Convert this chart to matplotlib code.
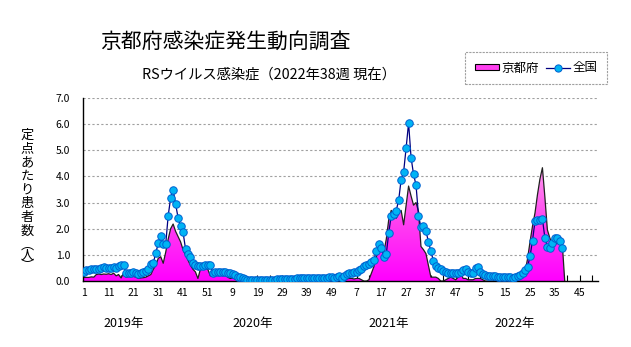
import numpy as np
import matplotlib
matplotlib.use('Agg')
import matplotlib.pyplot as plt
from matplotlib.patches import Patch
from matplotlib.lines import Line2D
from matplotlib.colors import LinearSegmentedColormap
import matplotlib.transforms as mtransforms

plt.rcParams['font.family'] = ['Noto Sans CJK JP', 'DejaVu Sans']

title = '京都府感染症発生動向調査'
subtitle = 'RSウイルス感染症（2022年38週 現在）'
ylabel_main = ['定', '点', 'あ', 'た', 'り', '患', '者', '数']
ylabel_unit = ['︵', '人', '︶']
years = ['2019年', '2020年', '2021年', '2022年']
series_names = ['京都府', '全国']
weeks_per_year = 52

# 全国 (per sentinel), weekly
national_2019 = [0.33, 0.41, 0.42, 0.45, 0.45, 0.46, 0.47, 0.49, 0.53, 0.51,
                 0.51, 0.50, 0.53, 0.49, 0.58, 0.61, 0.61, 0.30, 0.29, 0.30,
                 0.36, 0.30, 0.26, 0.32, 0.35, 0.39, 0.45, 0.65, 0.69, 1.08,
                 1.44, 1.72, 1.40, 1.40, 2.49, 3.18, 3.49, 2.94, 2.42, 2.10,
                 1.87, 1.23, 1.05, 0.91, 0.69, 0.60, 0.56, 0.56, 0.56, 0.60,
                 0.60, 0.63]
national_2020 = [0.30, 0.36, 0.36, 0.36, 0.35, 0.33, 0.30, 0.30, 0.26, 0.23,
                 0.17, 0.14, 0.10, 0.07, 0.05, 0.04, 0.03, 0.03, 0.03, 0.03,
                 0.04, 0.04, 0.03, 0.04, 0.05, 0.05, 0.06, 0.06, 0.07, 0.07,
                 0.08, 0.08, 0.09, 0.09, 0.10, 0.10, 0.11, 0.11, 0.12, 0.12,
                 0.12, 0.13, 0.13, 0.13, 0.13, 0.13, 0.13, 0.14, 0.14, 0.13,
                 0.15, 0.20]
national_2021 = [0.10, 0.20, 0.27, 0.29, 0.30, 0.33, 0.36, 0.41, 0.48, 0.57,
                 0.60, 0.67, 0.73, 0.80, 1.16, 1.42, 1.25, 0.93, 1.03, 1.85,
                 2.49, 2.57, 2.69, 3.09, 3.88, 4.17, 5.08, 6.04, 4.72, 4.08,
                 3.67, 2.50, 2.06, 2.12, 1.90, 1.51, 1.13, 0.78, 0.58, 0.51,
                 0.45, 0.40, 0.33, 0.29, 0.29, 0.29, 0.29, 0.31, 0.35, 0.42,
                 0.46, 0.35]
national_2022 = [0.31, 0.31, 0.51, 0.53, 0.35, 0.26, 0.22, 0.20, 0.20, 0.20,
                 0.19, 0.17, 0.16, 0.14, 0.15, 0.15, 0.14, 0.12, 0.15, 0.18,
                 0.22, 0.29, 0.42, 0.55, 0.94, 1.55, 2.28, 2.32, 2.35, 2.38,
                 1.64, 1.32, 1.27, 1.47, 1.64, 1.64, 1.55, 1.27]

# 京都府, weekly
kyoto_2019 = [0.14, 0.14, 0.14, 0.16, 0.15, 0.25, 0.27, 0.25, 0.27, 0.26,
              0.28, 0.25, 0.30, 0.20, 0.25, 0.12, 0.30, 0.15, 0.17, 0.17,
              0.18, 0.15, 0.10, 0.12, 0.13, 0.15, 0.20, 0.25, 0.45, 0.60,
              0.87, 0.93, 0.68, 1.10, 1.60, 2.00, 2.18, 1.90, 1.70, 1.50,
              1.20, 1.00, 0.80, 0.60, 0.45, 0.35, 0.10, 0.45, 0.50, 0.50,
              0.45, 0.20]
kyoto_2020 = [0.20, 0.25, 0.30, 0.25, 0.20, 0.25, 0.15, 0.10, 0.12, 0.08,
              0.05, 0.03, 0.02, 0, 0, 0, 0, 0, 0, 0,
              0, 0, 0, 0, 0, 0, 0, 0, 0, 0,
              0, 0, 0, 0, 0, 0, 0, 0, 0, 0,
              0, 0, 0, 0, 0, 0, 0, 0, 0, 0,
              0, 0]
kyoto_2021 = [0.0, 0.0, 0.08, 0.10, 0.10, 0.08, 0.10, 0.10, 0.05, 0.0,
              0.0, 0.05, 0.30, 0.55, 0.93, 1.20, 1.45, 1.10, 1.60, 2.35,
              2.70, 2.50, 2.40, 2.60, 2.70, 2.15, 2.90, 3.63, 3.25, 2.90,
              3.00, 2.67, 1.32, 1.20, 1.05, 0.60, 0.15, 0.15, 0.15, 0.10,
              0.0, 0.0, 0.05, 0.10, 0.15, 0.10, 0.05, 0.15, 0.30, 0.10,
              0.10, 0.05]
kyoto_2022 = [0.05, 0.05, 0.10, 0.10, 0.10, 0.05, 0, 0, 0, 0,
              0, 0, 0, 0, 0, 0, 0, 0, 0.05, 0.10,
              0.20, 0.25, 0.35, 0.85, 1.50, 2.10, 2.60, 3.30, 3.90, 4.33,
              3.20, 1.96, 1.64, 1.45, 1.40, 1.45, 1.40, 1.45]

national = np.array(national_2019 + national_2020 + national_2021 + national_2022)
kyoto = np.array(kyoto_2019 + kyoto_2020 + kyoto_2021 + kyoto_2022)
x = np.arange(len(national))
n_weeks = weeks_per_year * len(years)

fig = plt.figure(figsize=(6.31, 3.47), dpi=100)
ax = fig.add_axes([0.131, 0.190, 0.817, 0.528])

# kyoto area with vertical gradient
xk = np.append(x, x[-1] + 1)
yk = np.append(kyoto, 0)
poly = ax.fill_between(xk, yk, 0, color='none', lw=0)
cmap = LinearSegmentedColormap.from_list('kyoto', ['#ff00ff', '#ff40f0', '#ffa0ee'])
grad = np.linspace(0, 1, 256).reshape(-1, 1)
im = ax.imshow(grad, extent=(xk[0], xk[-1], 0, 4.5), origin='lower',
               aspect='auto', cmap=cmap, zorder=1)
im.set_clip_path(poly.get_paths()[0], transform=ax.transData)
ax.plot(xk, yk, color='#202020', lw=0.9, zorder=2)

ax.plot(x, national, color='#000080', lw=0.9, marker='o', ms=5.4,
        mfc='#00b4f4', mec='#0060d0', mew=0.7, zorder=3)

ax.set_xlim(-0.5, n_weeks - 0.5)
ax.set_ylim(0, 7)
ax.set_yticks(np.arange(0, 8))
ax.set_yticklabels(['%.1f' % v for v in range(8)], fontsize=7.5)
ax.yaxis.grid(True, color='#a0a0a0', linestyle=(0, (2, 2)), lw=0.8)
ax.set_axisbelow(True)
ax.tick_params(axis='y', length=0, pad=9)

major = np.arange(0, n_weeks, 10)
ax.set_xticks(major)
ax.set_xticklabels([str(i % weeks_per_year + 1) for i in major], fontsize=7.5)
ax.set_xticks(np.arange(0, n_weeks, 5), minor=True)
ax.tick_params(axis='x', which='both', direction='in', length=4, width=0.8, pad=5)

for s in ['top', 'right']:
    ax.spines[s].set_visible(False)
for s in ['left', 'bottom']:
    ax.spines[s].set_color('black')
    ax.spines[s].set_linewidth(1.0)

# year labels under the axis
trans = mtransforms.blended_transform_factory(ax.transData, fig.transFigure)
year_pos = [16, 68, 123, 174]
for xp, yl in zip(year_pos, years):
    ax.text(xp, 1 - 323 / 347, yl, transform=trans, ha='center', va='center',
            fontsize=9)

fig.text(225 / 631, 1 - 42 / 347, title, ha='center', va='center', fontsize=15)
fig.text(269 / 631, 1 - 75 / 347, subtitle, ha='center', va='center', fontsize=10.3)

# vertical y label, one character per line
fig.text(27 / 631, 1 - 183 / 347, '\n'.join(ylabel_main), ha='center',
         va='center', fontsize=9.5, linespacing=1.07)
fig.text(27 / 631, 1 - 256 / 347, '\n'.join(ylabel_unit), ha='center',
         va='center', fontsize=9.5, linespacing=0.75)

handles = [Patch(facecolor='#ff40f0', edgecolor='black', lw=0.8),
           Line2D([0], [0], color='#000080', lw=0.9, marker='o', ms=5.2,
                  mfc='#00b4f4', mec='#0060d0', mew=0.7)]
leg = fig.legend(handles, series_names, loc='center', ncol=2,
                 bbox_to_anchor=(536 / 631, 1 - 68 / 347), fontsize=9,
                 handlelength=1.9, handleheight=0.45, handletextpad=0.2,
                 columnspacing=0.6, borderpad=0.75, fancybox=False,
                 framealpha=1)
leg.get_frame().set_edgecolor('#a0a0a0')
leg.get_frame().set_linestyle((0, (2, 1)))
leg.get_frame().set_linewidth(0.8)

fig.savefig('out.png', dpi=100)
